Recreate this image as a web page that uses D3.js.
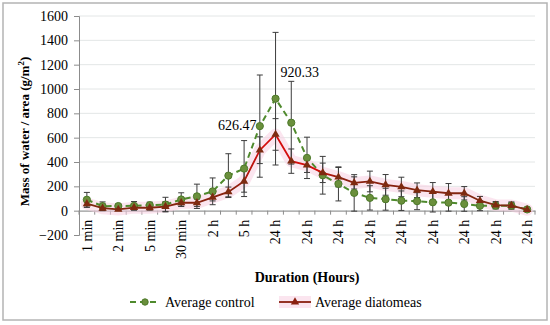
<!DOCTYPE html>
<html>
<head>
<meta charset="utf-8">
<script src="https://cdn.jsdelivr.net/npm/d3@7"></script>
<style>
  body { margin: 0; background: #fff; }
</style>
</head>
<body>
<div id="chart-area"></div>
<script>
/*
*    mass of water per area, control vs diatomeas
*/

// tick labels shown on every other category
var tickLabels = ["1 min", "2 min", "5 min", "30 min", "2 h", "5 h",
    "24 h", "24 h", "24 h", "24 h", "24 h", "24 h", "24 h", "24 h", "24 h"];

var control = [90, 37, 38, 40, 45, 50, 92, 118, 159, 288, 346, 695, 920.33, 723,
    434, 291, 220, 146, 105, 94, 82, 78, 69, 66, 55, 40, 41, 41, 10];
var controlErr = [60, 35, 15, 35, 25, 60, 55, 100, 110, 180, 230, 420, 545, 340,
    170, 155, 140, 150, 100, 90, 80, 70, 80, 70, 60, 40, 25, 25, 10];

var diatomeas = [57, 20, 10, 25, 24, 34, 65, 65, 110, 154, 242, 497, 626.47, 407,
    374, 311, 275, 228, 240, 212, 195, 168, 156, 143, 143, 82, 45, 42, 8];
var diatomeasErr = [30, 20, 10, 20, 20, 40, 30, 30, 30, 40, 90, 110, 130, 100,
    60, 80, 80, 50, 85, 85, 80, 60, 75, 80, 55, 35, 30, 30, 10];

var yTicks = [-200, 0, 200, 400, 600, 800, 1000, 1200, 1400, 1600];

var W = 550, H = 325;
var pLeft = 79, pRight = 535, pTop = 16, pBottom = 235;
var serif = "'Liberation Serif', 'Times New Roman', Times, serif";

var svg = d3.select("#chart-area").append("svg")
    .attr("width", W)
    .attr("height", H)
    .attr("font-family", serif);

// outer frame
svg.append("rect")
    .attr("x", 3).attr("y", 3)
    .attr("width", 544).attr("height", 317)
    .attr("fill", "none")
    .attr("stroke", "#b4b4b4")
    .attr("stroke-width", 1.5);

var idx = d3.range(control.length);

var x = d3.scaleBand()
    .domain(idx)
    .range([pLeft, pRight]);

var y = d3.scaleLinear()
    .domain([-200, 1600])
    .range([pBottom, pTop]);

var cx = (i) => x(i) + x.bandwidth() / 2;

// red line gradient (dark at the ends, bright red in the peak)
var defs = svg.append("defs");
var grad = defs.append("linearGradient")
    .attr("id", "redGrad")
    .attr("gradientUnits", "userSpaceOnUse")
    .attr("x1", pLeft).attr("x2", pRight)
    .attr("y1", 0).attr("y2", 0);
[[0, "#7e2a10"], [0.34, "#8a1f0e"], [0.40, "#d40d0d"], [0.52, "#d40d0d"], [0.58, "#8a1f0e"], [1, "#7e2a10"]]
    .forEach((s) => {
        grad.append("stop").attr("offset", s[0]).attr("stop-color", s[1]);
    });

// gridlines
svg.append("g").selectAll("line")
    .data(yTicks)
    .enter().append("line")
    .attr("x1", pLeft).attr("x2", pRight)
    .attr("y1", (d) => y(d)).attr("y2", (d) => y(d))
    .attr("stroke", "#e3e6e6")
    .attr("stroke-width", 1);

// y axis
var yAxis = svg.append("g")
    .attr("transform", "translate(" + pLeft + ",0)")
    .call(d3.axisLeft(y).tickValues(yTicks).tickSize(5).tickPadding(6).tickFormat(d3.format("d")));
yAxis.attr("font-family", serif).attr("font-size", 14);
yAxis.select(".domain").attr("stroke", "#8c8c8c");
yAxis.selectAll(".tick line").attr("stroke", "#8c8c8c");
yAxis.selectAll("text").attr("fill", "#000");

// x axis at zero
var xAxis = svg.append("g")
    .attr("transform", "translate(0," + y(0) + ")")
    .call(d3.axisBottom(x)
        .tickValues(idx.filter((i) => i % 2 == 0))
        .tickSize(0)
        .tickFormat((i) => tickLabels[i / 2]));
xAxis.attr("font-family", serif).attr("font-size", 14);
xAxis.select(".domain").attr("stroke", "#8c8c8c");
xAxis.selectAll("text")
    .attr("fill", "#000")
    .attr("transform", "rotate(-90)")
    .attr("text-anchor", "end")
    .attr("x", -9)
    .attr("y", 0)
    .attr("dy", "0.35em");

// tick marks between categories
svg.append("g").selectAll("line")
    .data(d3.range(control.length + 1))
    .enter().append("line")
    .attr("x1", (i) => pLeft + i * x.step())
    .attr("x2", (i) => pLeft + i * x.step())
    .attr("y1", y(0)).attr("y2", y(0) + 4)
    .attr("stroke", "#8c8c8c");

// pink glow under the diatomeas line
var line = d3.line()
    .x((d, i) => cx(i))
    .y((d) => y(d));

svg.append("path")
    .datum(diatomeas)
    .attr("d", line)
    .attr("fill", "none")
    .attr("stroke", "#f8cfe2")
    .attr("stroke-opacity", 0.55)
    .attr("stroke-width", 12)
    .attr("stroke-linejoin", "round")
    .attr("stroke-linecap", "round");

// error bars
function errorBars(vals, errs) {
    var g = svg.append("g")
        .attr("stroke", "#3c3c3c")
        .attr("stroke-width", 1);
    vals.forEach((v, i) => {
        var e = errs[i];
        g.append("line")
            .attr("x1", cx(i)).attr("x2", cx(i))
            .attr("y1", y(v - e)).attr("y2", y(v + e));
        [v - e, v + e].forEach((c) => {
            g.append("line")
                .attr("x1", cx(i) - 3).attr("x2", cx(i) + 3)
                .attr("y1", y(c)).attr("y2", y(c));
        });
    });
}
errorBars(control, controlErr);
errorBars(diatomeas, diatomeasErr);

// control line
svg.append("path")
    .datum(control)
    .attr("d", line)
    .attr("fill", "none")
    .attr("stroke", "#4f8a2d")
    .attr("stroke-width", 2)
    .attr("stroke-dasharray", "6,4");

svg.append("g").selectAll("circle")
    .data(control)
    .enter().append("circle")
    .attr("cx", (d, i) => cx(i))
    .attr("cy", (d) => y(d))
    .attr("r", 3.6)
    .attr("fill", "#6a8f3c")
    .attr("stroke", "#4d7a2a")
    .attr("stroke-width", 1);

// diatomeas line
svg.append("path")
    .datum(diatomeas)
    .attr("d", line)
    .attr("fill", "none")
    .attr("stroke", "url(#redGrad)")
    .attr("stroke-width", 1.8);

var tri = d3.symbol().type(d3.symbolTriangle).size(30);
svg.append("g").selectAll("path")
    .data(diatomeas)
    .enter().append("path")
    .attr("d", tri)
    .attr("transform", (d, i) => "translate(" + cx(i) + "," + y(d) + ")")
    .attr("fill", "url(#redGrad)");

// data labels on the peaks
svg.append("text")
    .attr("x", cx(12) + 5)
    .attr("y", y(control[12]) - 22)
    .attr("font-size", 14)
    .text(d3.format(".2f")(control[12]));

svg.append("text")
    .attr("x", cx(12) - 19)
    .attr("y", y(diatomeas[12]) - 4)
    .attr("text-anchor", "end")
    .attr("font-size", 14)
    .text(d3.format(".2f")(diatomeas[12]));

// axis titles
svg.append("text")
    .attr("transform", "translate(29," + ((pTop + pBottom) / 2 + 6) + ") rotate(-90)")
    .attr("text-anchor", "middle")
    .attr("font-size", 13)
    .attr("font-weight", "bold")
    .html("Mass of water / area (g/m<tspan baseline-shift='super' font-size='9'>2</tspan>)");

svg.append("text")
    .attr("x", (pLeft + pRight) / 2)
    .attr("y", 282)
    .attr("text-anchor", "middle")
    .attr("font-size", 14)
    .attr("font-weight", "bold")
    .text("Duration (Hours)");

// legend
var lg = svg.append("g").attr("transform", "translate(0,302)");

lg.append("line")
    .attr("x1", 130).attr("x2", 160)
    .attr("stroke", "#4f8a2d").attr("stroke-width", 2)
    .attr("stroke-dasharray", "6,4");
lg.append("circle")
    .attr("cx", 145).attr("r", 3.2)
    .attr("fill", "#6a8f3c").attr("stroke", "#4d7a2a");
lg.append("text")
    .attr("x", 165).attr("dy", "0.35em")
    .attr("font-size", 14)
    .text("Average control");

lg.append("line")
    .attr("x1", 279).attr("x2", 311)
    .attr("stroke", "#f8cfe2").attr("stroke-opacity", 0.55)
    .attr("stroke-width", 12);
lg.append("line")
    .attr("x1", 279).attr("x2", 311)
    .attr("stroke", "#8a1f0e").attr("stroke-width", 1.8);
lg.append("path")
    .attr("d", tri)
    .attr("transform", "translate(295,0)")
    .attr("fill", "#8a1f0e");
lg.append("text")
    .attr("x", 315).attr("dy", "0.35em")
    .attr("font-size", 14)
    .text("Average diatomeas");
</script>
</body>
</html>
